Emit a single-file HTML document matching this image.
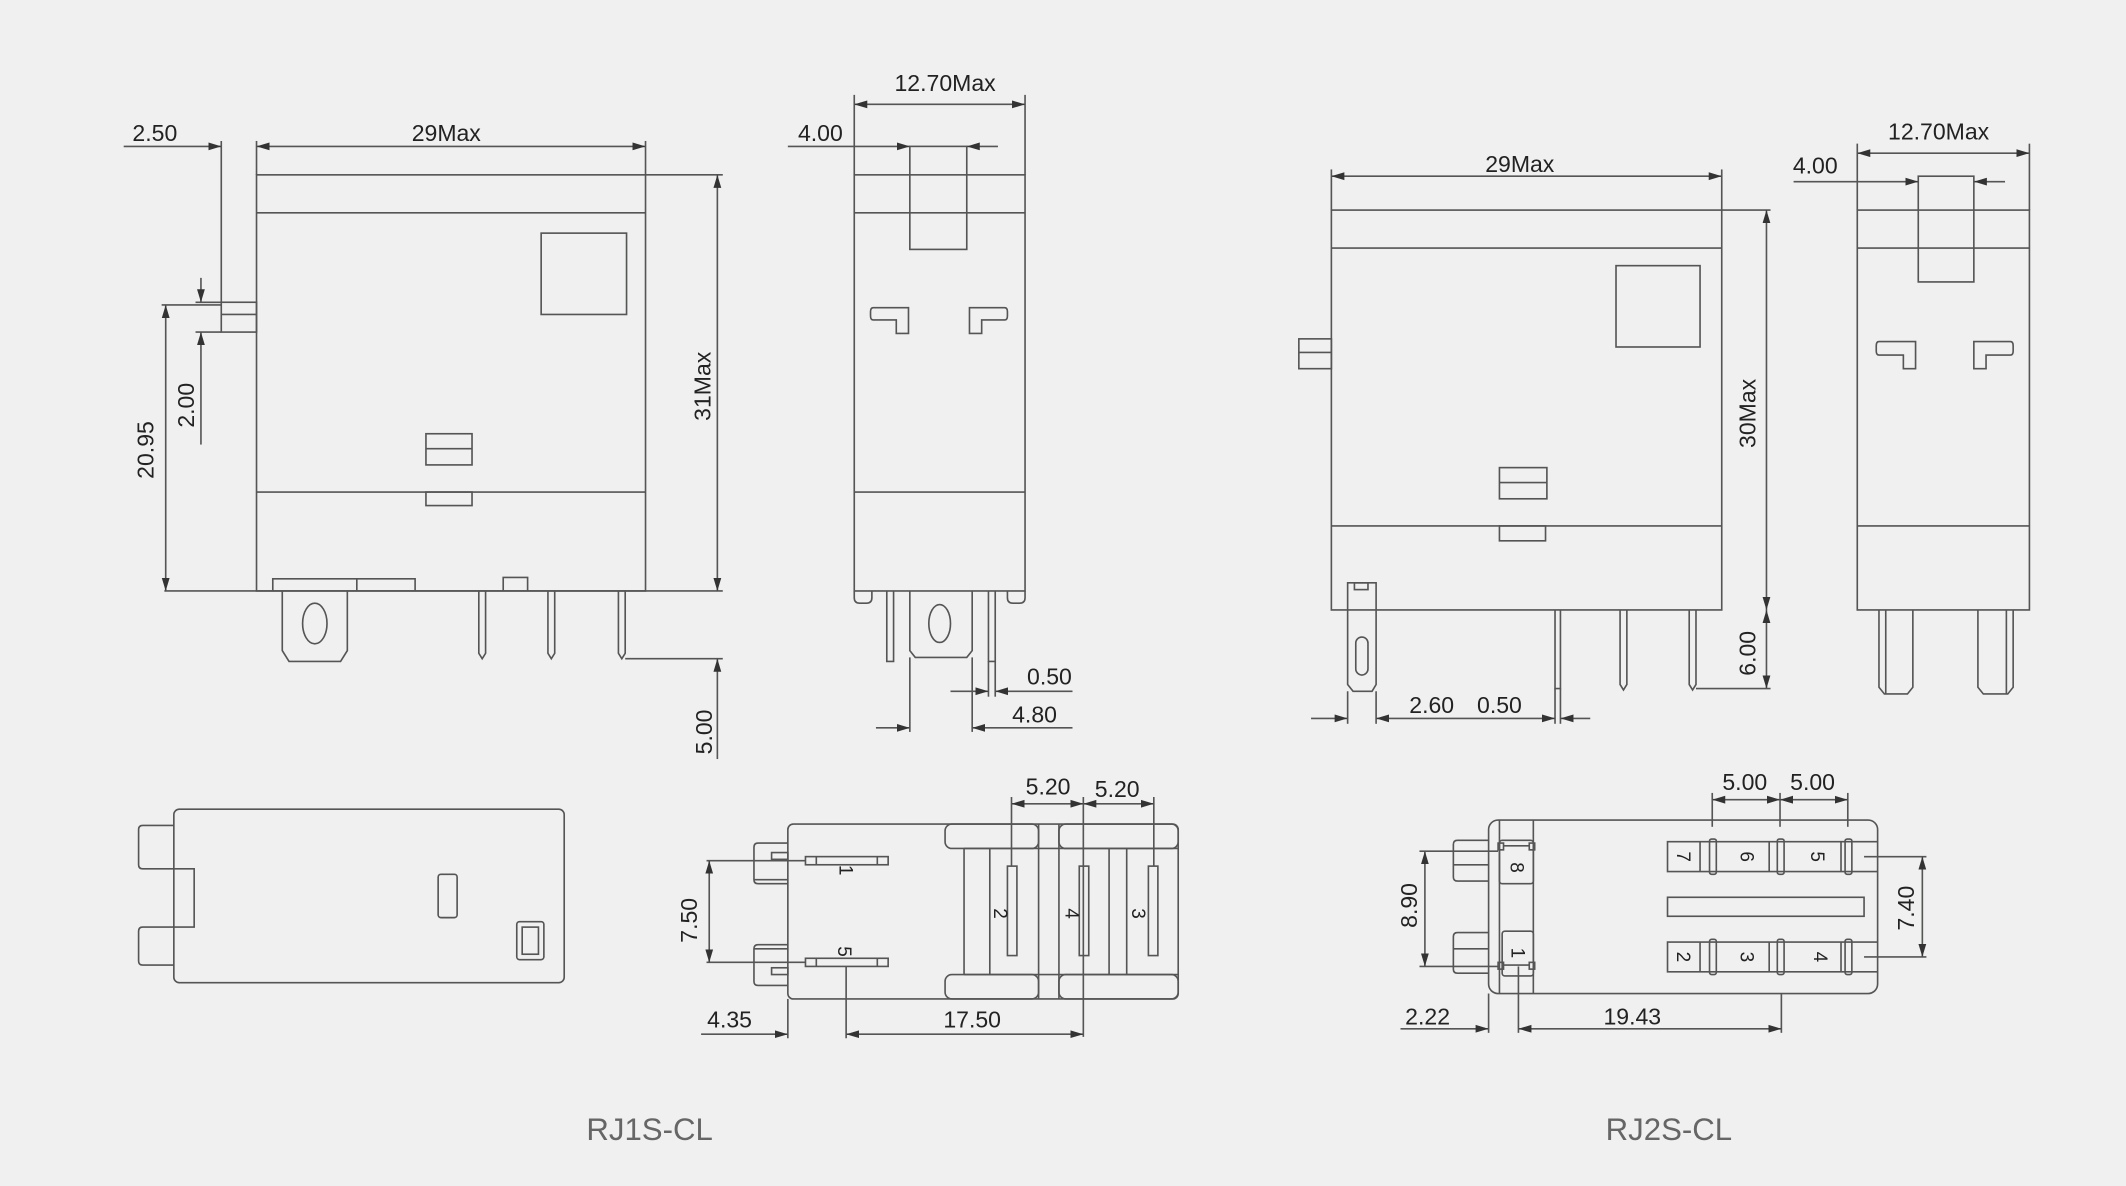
<!DOCTYPE html>
<html><head><meta charset="utf-8"><style>
html,body{margin:0;padding:0;background:#eff0ef;}
svg{display:block}
text{font-family:"Liberation Sans",sans-serif;fill:#222;font-size:17px}
</style></head><body>
<svg width="2126" height="1186" viewBox="0 0 1566 875" xmlns="http://www.w3.org/2000/svg">
<defs>
<marker id="a" viewBox="0 0 10 6" refX="10" refY="3" markerWidth="8" markerHeight="5" orient="auto-start-reverse"><path d="M0,0L10,3L0,6z" fill="#333"/></marker>
</defs>
<rect width="1566" height="875" fill="#eff0ef"/>
<g fill="none" stroke="#555" stroke-width="1.2">
<!-- RJ1S front -->
<rect x="188" y="129" width="287" height="307"/>
<line x1="188" y1="157" x2="475" y2="157"/>
<line x1="188" y1="363" x2="475" y2="363"/>
<line x1="475" y1="129" x2="532" y2="129"/>
<line x1="120" y1="436" x2="532" y2="436"/>
<rect x="398" y="172" width="63" height="60"/>
<rect x="313" y="320" width="34" height="23"/><line x1="313" y1="331" x2="347" y2="331"/>
<rect x="313" y="363" width="34" height="10"/>
<rect x="162" y="223" width="26" height="22"/><line x1="162" y1="232" x2="188" y2="232"/>
<line x1="162" y1="104" x2="162" y2="223"/>
<line x1="188" y1="104" x2="188" y2="129"/>
<line x1="475" y1="104" x2="475" y2="129"/>
<line x1="90" y1="108" x2="162" y2="108" marker-end="url(#a)"/>
<line x1="188" y1="108" x2="475" y2="108" marker-start="url(#a)" marker-end="url(#a)"/>
<line x1="143" y1="223" x2="162" y2="223"/><line x1="143" y1="245" x2="162" y2="245"/>
<line x1="147" y1="205" x2="147" y2="223" marker-end="url(#a)"/>
<line x1="147" y1="245" x2="147" y2="328" marker-start="url(#a)"/>
<line x1="118" y1="225" x2="162" y2="225"/>
<line x1="121" y1="225" x2="121" y2="436" marker-start="url(#a)" marker-end="url(#a)"/>
<path d="M200,436V427H305V436"/><line x1="262" y1="427" x2="262" y2="436"/>
<path d="M370,436V426H388V436"/>
<path d="M207,436V480L212,488H250L255,480V436"/>
<ellipse cx="231" cy="460" rx="9" ry="15"/>
<path d="M352,436V482L354.5,486L357,482V436"/>
<path d="M403,436V482L405.5,486L408,482V436"/>
<path d="M455,436V482L457.5,486L460,482V436"/>
<line x1="460" y1="486" x2="532" y2="486"/>
<line x1="528" y1="129" x2="528" y2="436" marker-start="url(#a)" marker-end="url(#a)"/>
<line x1="528" y1="486" x2="528" y2="560" marker-start="url(#a)"/>
<!-- RJ1S side -->
<rect x="629" y="129" width="126" height="307"/>
<line x1="629" y1="157" x2="755" y2="157"/>
<line x1="629" y1="363" x2="755" y2="363"/>
<line x1="629" y1="70" x2="629" y2="129"/><line x1="755" y1="70" x2="755" y2="129"/>
<line x1="629" y1="77" x2="755" y2="77" marker-start="url(#a)" marker-end="url(#a)"/>
<rect x="670" y="108" width="42" height="76"/>
<line x1="580" y1="108" x2="670" y2="108" marker-end="url(#a)"/>
<line x1="712" y1="108" x2="735" y2="108" marker-start="url(#a)"/>
<path d="M643,227H669V246H660V236H643Q641,236 641,233V230Q641,227 643,227Z"/>
<path d="M740,227H714V246H723V236H740Q742,236 742,233V230Q742,227 740,227Z"/>
<path d="M629,436V441Q629,445 633,445H638Q642,445 642,441V436"/>
<path d="M742,436V441Q742,445 746,445H751Q755,445 755,441V436"/>
<path d="M653,436V488H658V436"/>
<path d="M728,436V488H733V436"/>
<path d="M670,436V480L674,485H712L716,480V436"/>
<ellipse cx="692" cy="460" rx="8" ry="14"/>
<line x1="728" y1="488" x2="728" y2="514"/><line x1="733" y1="488" x2="733" y2="514"/>
<line x1="700" y1="510" x2="728" y2="510" marker-end="url(#a)"/>
<line x1="733" y1="510" x2="790" y2="510" marker-start="url(#a)"/>
<line x1="670" y1="485" x2="670" y2="540"/><line x1="716" y1="485" x2="716" y2="540"/>
<line x1="645" y1="537" x2="670" y2="537" marker-end="url(#a)"/>
<line x1="716" y1="537" x2="790" y2="537" marker-start="url(#a)"/>
<!-- RJ1S bottom left -->
<rect x="127" y="597" width="288" height="128" rx="4"/>
<path d="M127,609H104Q101,609 101,612V638Q101,641 104,641H127"/>
<path d="M127,641H142V684H127"/>
<path d="M127,684H104Q101,684 101,687V709Q101,712 104,712H127"/>
<rect x="322" y="645" width="14" height="32" rx="2"/>
<rect x="380" y="680" width="20" height="28" rx="2"/><rect x="384" y="684" width="12" height="20"/>
<!-- RJ1S bottom right -->
<rect x="580" y="608" width="288" height="129" rx="4"/>
<path d="M580,622H558Q555,622 555,625V649Q555,652 558,652H580"/>
<path d="M580,697H558Q555,697 555,700V724Q555,727 558,727H580"/>
<rect x="568" y="629" width="12" height="5"/><rect x="568" y="714" width="12" height="5"/>
<line x1="555" y1="649" x2="580" y2="649"/><line x1="555" y1="700" x2="580" y2="700"/>
<rect x="593" y="632" width="61" height="6"/><rect x="593" y="707" width="61" height="6"/>
<line x1="601" y1="632" x2="601" y2="638"/><line x1="646" y1="632" x2="646" y2="638"/>
<line x1="601" y1="707" x2="601" y2="713"/><line x1="646" y1="707" x2="646" y2="713"/>
<rect x="696" y="608" width="69" height="18" rx="5"/>
<rect x="696" y="719" width="69" height="18" rx="5"/>
<rect x="780" y="608" width="88" height="18" rx="5"/>
<rect x="780" y="719" width="88" height="18" rx="5"/>
<line x1="710" y1="626" x2="710" y2="719"/><line x1="729" y1="626" x2="729" y2="719"/>
<line x1="765" y1="608" x2="765" y2="737"/><line x1="780" y1="608" x2="780" y2="737"/>
<line x1="817" y1="626" x2="817" y2="719"/><line x1="830" y1="626" x2="830" y2="719"/>
<line x1="710" y1="626" x2="868" y2="626"/><line x1="710" y1="719" x2="868" y2="719"/>
<rect x="742" y="639" width="7" height="66"/><rect x="795" y="639" width="7" height="66"/><rect x="846" y="639" width="7" height="66"/>
<line x1="520" y1="635" x2="593" y2="635"/><line x1="520" y1="710" x2="593" y2="710"/>
<line x1="522" y1="635" x2="522" y2="710" marker-start="url(#a)" marker-end="url(#a)"/>
<line x1="745" y1="588" x2="745" y2="639"/><line x1="798" y1="588" x2="798" y2="765"/><line x1="850" y1="588" x2="850" y2="639"/>
<line x1="745" y1="593" x2="798" y2="593" marker-start="url(#a)" marker-end="url(#a)"/>
<line x1="798" y1="593" x2="850" y2="593" marker-start="url(#a)" marker-end="url(#a)"/>
<line x1="580" y1="737" x2="580" y2="766"/><line x1="623" y1="713" x2="623" y2="766"/>
<line x1="516" y1="763" x2="580" y2="763" marker-end="url(#a)"/>
<line x1="623" y1="763" x2="798" y2="763" marker-start="url(#a)" marker-end="url(#a)"/>
<!-- RJ2S front -->
<rect x="981" y="155" width="288" height="295"/>
<line x1="981" y1="183" x2="1269" y2="183"/>
<line x1="981" y1="388" x2="1269" y2="388"/>
<line x1="1269" y1="155" x2="1305" y2="155"/>
<line x1="981" y1="125" x2="981" y2="155"/><line x1="1269" y1="125" x2="1269" y2="155"/>
<line x1="981" y1="130" x2="1269" y2="130" marker-start="url(#a)" marker-end="url(#a)"/>
<rect x="1191" y="196" width="62" height="60"/>
<rect x="1105" y="345" width="35" height="23"/><line x1="1105" y1="356" x2="1140" y2="356"/>
<rect x="1105" y="388" width="34" height="11"/>
<rect x="957" y="250" width="24" height="22"/><line x1="957" y1="260" x2="981" y2="260"/>
<path d="M993,450V430H1014V450"/><rect x="998" y="430" width="10" height="5"/>
<path d="M993,450V505L997,510H1011L1014,505V450"/>
<rect x="999" y="470" width="9" height="28" rx="4.5"/>
<path d="M1146,450V508H1150V450"/>
<path d="M1194,450V505L1196.5,509L1199,505V450"/>
<path d="M1245,450V505L1247.5,509L1250,505V450"/>
<line x1="1250" y1="508" x2="1305" y2="508"/>
<line x1="1302" y1="155" x2="1302" y2="450" marker-start="url(#a)" marker-end="url(#a)"/>
<line x1="1302" y1="450" x2="1302" y2="508" marker-start="url(#a)" marker-end="url(#a)"/>
<line x1="993" y1="510" x2="993" y2="534"/><line x1="1014" y1="510" x2="1014" y2="534"/>
<line x1="1146" y1="508" x2="1146" y2="534"/><line x1="1150" y1="508" x2="1150" y2="534"/>
<line x1="966" y1="530" x2="993" y2="530" marker-end="url(#a)"/>
<line x1="1014" y1="530" x2="1146" y2="530" marker-start="url(#a)" marker-end="url(#a)"/>
<line x1="1150" y1="530" x2="1172" y2="530" marker-start="url(#a)"/>
<!-- RJ2S side -->
<rect x="1369" y="155" width="127" height="295"/>
<line x1="1369" y1="183" x2="1496" y2="183"/>
<line x1="1369" y1="388" x2="1496" y2="388"/>
<line x1="1369" y1="106" x2="1369" y2="155"/><line x1="1496" y1="106" x2="1496" y2="155"/>
<line x1="1369" y1="113" x2="1496" y2="113" marker-start="url(#a)" marker-end="url(#a)"/>
<rect x="1414" y="130" width="41" height="78"/>
<line x1="1322" y1="134" x2="1414" y2="134" marker-end="url(#a)"/>
<line x1="1455" y1="134" x2="1478" y2="134" marker-start="url(#a)"/>
<path d="M1385,252H1412V272H1403V262H1385Q1383,262 1383,259V255Q1383,252 1385,252Z"/>
<path d="M1482,252H1455V272H1464V262H1482Q1484,262 1484,259V255Q1484,252 1482,252Z"/>
<path d="M1385,450V507L1389,512H1406L1410,507V450"/><line x1="1390" y1="450" x2="1390" y2="512"/>
<path d="M1458,450V507L1462,512H1480L1484,507V450"/><line x1="1479" y1="450" x2="1479" y2="512"/>
<!-- RJ2S bottom -->
<rect x="1097" y="605" width="287" height="128" rx="7"/>
<path d="M1097,620H1074Q1071,620 1071,623V647Q1071,650 1074,650H1097"/><line x1="1071" y1="638" x2="1097" y2="638"/>
<path d="M1097,688H1074Q1071,688 1071,691V715Q1071,718 1074,718H1097"/><line x1="1071" y1="700" x2="1097" y2="700"/>
<line x1="1105" y1="605" x2="1105" y2="733"/><line x1="1130" y1="605" x2="1130" y2="733"/>
<rect x="1105" y="620" width="25" height="32" rx="2"/>
<rect x="1107" y="687" width="23" height="33" rx="2"/>
<rect x="1104" y="622" width="4" height="5"/><rect x="1127" y="622" width="4" height="5"/>
<rect x="1104" y="710" width="4" height="5"/><rect x="1127" y="710" width="4" height="5"/>
<line x1="1108" y1="624" x2="1127" y2="624"/><line x1="1108" y1="712" x2="1127" y2="712"/>
<path d="M1384,621H1229V643H1384"/>
<path d="M1384,695H1229V717H1384"/>
<line x1="1253" y1="621" x2="1253" y2="643"/><line x1="1304" y1="621" x2="1304" y2="643"/><line x1="1357" y1="621" x2="1357" y2="643"/>
<line x1="1253" y1="695" x2="1253" y2="717"/><line x1="1304" y1="695" x2="1304" y2="717"/><line x1="1357" y1="695" x2="1357" y2="717"/>
<rect x="1260" y="619" width="5" height="26" rx="1.5"/><rect x="1310" y="619" width="5" height="26" rx="1.5"/><rect x="1360" y="619" width="5" height="26" rx="1.5"/>
<rect x="1260" y="693" width="5" height="26" rx="1.5"/><rect x="1310" y="693" width="5" height="26" rx="1.5"/><rect x="1360" y="693" width="5" height="26" rx="1.5"/>
<rect x="1229" y="662" width="145" height="14"/>
<line x1="1262" y1="585" x2="1262" y2="610"/><line x1="1312" y1="585" x2="1312" y2="610"/><line x1="1362" y1="585" x2="1362" y2="610"/>
<line x1="1262" y1="590" x2="1312" y2="590" marker-start="url(#a)" marker-end="url(#a)"/>
<line x1="1312" y1="590" x2="1362" y2="590" marker-start="url(#a)" marker-end="url(#a)"/>
<line x1="1374" y1="632" x2="1420" y2="632"/><line x1="1374" y1="706" x2="1420" y2="706"/>
<line x1="1417" y1="632" x2="1417" y2="706" marker-start="url(#a)" marker-end="url(#a)"/>
<line x1="1046" y1="628" x2="1104" y2="628"/><line x1="1046" y1="713" x2="1104" y2="713"/>
<line x1="1050" y1="628" x2="1050" y2="713" marker-start="url(#a)" marker-end="url(#a)"/>
<line x1="1097" y1="733" x2="1097" y2="762"/><line x1="1119" y1="713" x2="1119" y2="762"/><line x1="1313" y1="733" x2="1313" y2="762"/>
<line x1="1032" y1="759" x2="1097" y2="759" marker-end="url(#a)"/>
<line x1="1119" y1="759" x2="1313" y2="759" marker-start="url(#a)" marker-end="url(#a)"/>
</g>
<g>
<text x="113" y="104" text-anchor="middle">2.50</text>
<text x="328" y="104" text-anchor="middle">29Max</text>
<text transform="translate(142,299) rotate(-90)" text-anchor="middle">2.00</text>
<text transform="translate(112,332) rotate(-90)" text-anchor="middle">20.95</text>
<text transform="translate(523,285) rotate(-90)" text-anchor="middle">31Max</text>
<text transform="translate(524,540) rotate(-90)" text-anchor="middle">5.00</text>
<text x="696" y="67" text-anchor="middle">12.70Max</text>
<text x="604" y="104" text-anchor="middle">4.00</text>
<text x="773" y="505" text-anchor="middle">0.50</text>
<text x="762" y="533" text-anchor="middle">4.80</text>
<text x="772" y="586" text-anchor="middle">5.20</text>
<text x="823" y="588" text-anchor="middle">5.20</text>
<text transform="translate(513,679) rotate(-90)" text-anchor="middle">7.50</text>
<text x="537" y="758" text-anchor="middle">4.35</text>
<text x="716" y="758" text-anchor="middle">17.50</text>
<g font-size="14">
<text transform="translate(618,642) rotate(90)" text-anchor="middle" style="font-size:14px">1</text>
<text transform="translate(617,702) rotate(90)" text-anchor="middle" style="font-size:14px">5</text>
<text transform="translate(732,674) rotate(90)" text-anchor="middle" style="font-size:14px">2</text>
<text transform="translate(785,674) rotate(90)" text-anchor="middle" style="font-size:14px">4</text>
<text transform="translate(834,674) rotate(90)" text-anchor="middle" style="font-size:14px">3</text>
<text transform="translate(1113,640) rotate(90)" text-anchor="middle" style="font-size:14px">8</text>
<text transform="translate(1114,703) rotate(90)" text-anchor="middle" style="font-size:14px">1</text>
<text transform="translate(1236,632) rotate(90)" text-anchor="middle" style="font-size:14px">7</text>
<text transform="translate(1283,632) rotate(90)" text-anchor="middle" style="font-size:14px">6</text>
<text transform="translate(1335,632) rotate(90)" text-anchor="middle" style="font-size:14px">5</text>
<text transform="translate(1236,706) rotate(90)" text-anchor="middle" style="font-size:14px">2</text>
<text transform="translate(1283,706) rotate(90)" text-anchor="middle" style="font-size:14px">3</text>
<text transform="translate(1337,706) rotate(90)" text-anchor="middle" style="font-size:14px">4</text>
</g>
<text x="1120" y="127" text-anchor="middle">29Max</text>
<text transform="translate(1294,305) rotate(-90)" text-anchor="middle">30Max</text>
<text transform="translate(1294,482) rotate(-90)" text-anchor="middle">6.00</text>
<text x="1055" y="526" text-anchor="middle">2.60</text>
<text x="1105" y="526" text-anchor="middle">0.50</text>
<text x="1429" y="103" text-anchor="middle">12.70Max</text>
<text x="1338" y="128" text-anchor="middle">4.00</text>
<text x="1286" y="583" text-anchor="middle">5.00</text>
<text x="1336" y="583" text-anchor="middle">5.00</text>
<text transform="translate(1411,670) rotate(-90)" text-anchor="middle">7.40</text>
<text transform="translate(1044,668) rotate(-90)" text-anchor="middle">8.90</text>
<text x="1052" y="756" text-anchor="middle">2.22</text>
<text x="1203" y="756" text-anchor="middle">19.43</text>
<text x="478" y="841" text-anchor="middle" style="font-size:23px;fill:#666">RJ1S-CL</text>
<text x="1230" y="841" text-anchor="middle" style="font-size:23px;fill:#666">RJ2S-CL</text>
</g>
</svg>
</body></html>
